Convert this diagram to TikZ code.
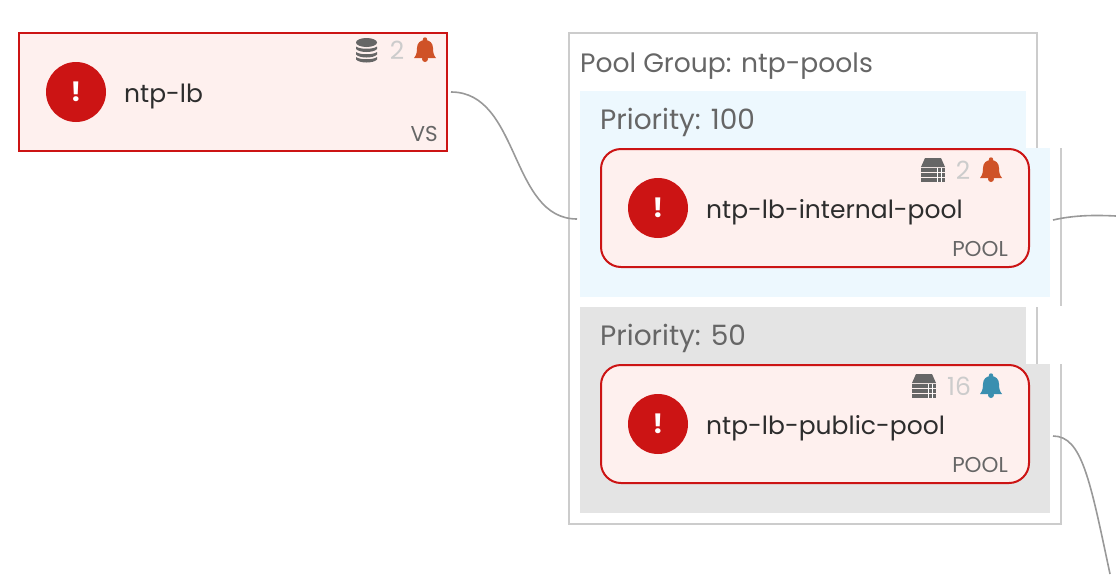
\documentclass[tikz,border=0pt]{standalone}
\usepackage{fontspec}
\setmainfont{Poppins}
\definecolor{alertred}{HTML}{CC1414}
\definecolor{alertfill}{HTML}{FEF0EE}
\definecolor{bluepane}{HTML}{EDF8FE}
\definecolor{graypane}{HTML}{E4E4E4}
\definecolor{groupline}{HTML}{CCCCCC}
\definecolor{textgray}{HTML}{666666}
\definecolor{namedark}{HTML}{2D2D2D}
\definecolor{bellred}{HTML}{CF5227}
\definecolor{bellblue}{HTML}{3A8FB0}
\tikzset{
  vsbox/.style={draw=alertred,line width=2pt,fill=alertfill,minimum width=428pt,minimum height=118pt,outer sep=4pt,inner sep=0pt},
  poolbox/.style={draw=alertred,line width=2pt,fill=alertfill,rounded corners=20pt,minimum width=428pt,minimum height=118pt,inner sep=0pt},
  pane/.style={minimum width=470pt,minimum height=149pt,inner sep=0pt,outer sep=3pt},
  panetop/.style={minimum width=446pt,minimum height=57pt,inner sep=0pt},
  alerticon/.style={circle,fill=alertred,minimum size=60pt,inner sep=0pt,text=white,font=\fontsize{27}{27}\selectfont\bfseries},
  nametext/.style={anchor=base west,text=namedark,inner sep=0pt,font=\fontsize{25}{30}\selectfont},
  headtext/.style={anchor=base west,text=textgray,inner sep=0pt,font=\fontsize{26.6}{30}\selectfont},
  prioritytext/.style={headtext,font=\fontsize{28}{30}\selectfont},
  kindtext/.style={anchor=base east,text=textgray,inner sep=0pt,font=\fontsize{21.5}{24}\selectfont},
  counttext/.style={text=groupline,inner sep=0pt,font=\fontsize{25}{28}\selectfont},
  groupedge/.style={draw=groupline,line width=2pt},
  link/.style={draw=black!40,line width=1.6pt},
  pics/bell/.style={code={
    \fill[#1] (-11,8) .. controls (-8.5,5) and (-8,2) .. (-8,-2) .. controls (-8,-7) and (-4.5,-10) .. (0,-10)
      .. controls (4.5,-10) and (8,-7) .. (8,-2) .. controls (8,2) and (8.5,5) .. (11,8) -- cycle;
    \fill[#1] (0,-10.5) circle (2.2);
    \fill[#1] (0,9) circle (3);
  }},
  pics/server/.style={code={
    \fill[textgray] (-8,-12) -- (8,-12) -- (12,-3) -- (-12,-3) -- cycle;
    \foreach \rowtop in {-2,3,8}
      \fill[textgray] (-12,\rowtop) rectangle (12,\rowtop+4);
    \draw[white,line width=.7pt] (4,-2) -- (4,12.2) (8,-2) -- (8,12.2);
  }},
  pics/dbstack/.style={code={
    \fill[textgray] (0,-7.5) ellipse[x radius=10.5,y radius=4.5];
    \foreach \bandtop in {-3.5,2,7}
      \fill[textgray] (-10.5,\bandtop) .. controls (-7,\bandtop+3) and (7,\bandtop+3) .. (10.5,\bandtop)
        -- (10.5,\bandtop+2.5) .. controls (7,\bandtop+6.5) and (-7,\bandtop+6.5) .. (-10.5,\bandtop+2.5) -- cycle;
  }},
}
\begin{document}
\begin{tikzpicture}[x=1pt,y=-1pt]
\useasboundingbox (0,0) rectangle (1116,574);
% group outline
\draw[groupedge] (1037,148) -- (1037,33) -- (569,33) -- (569,524) -- (1061,524) -- (1061,364);
\draw[groupedge] (1061,148) -- (1061,306);
\draw[groupedge] (1037,307) -- (1037,364);
% priority panes
\node[panetop,fill=bluepane] (bluetop) at (803,119.5) {};
\node[pane,fill=bluepane] (bluepanel) at (815,222.5) {};
\node[panetop,fill=graypane] (graytop) at (803,335.5) {};
\node[pane,fill=graypane] (graypanel) at (815,438.5) {};
\node[headtext] (grouptitle) at (580,72) {Pool Group: ntp-pools};
\node[prioritytext] (bluetitle) at (600,129) {Priority: 100};
\node[prioritytext] (graytitle) at (600,345) {Priority: 50};
% vs
\node[vsbox] (vsnode) at (233,92) {};
\node[alerticon] (vsalert) at (76,92) {!};
\node[nametext] (vsname) at (124,102) {ntp-lb};
\node[kindtext] (vskind) at (438,141) {VS};
\node[counttext] (vscount) at (397,50) {2};
\pic at (366.5,50) {dbstack};
\pic at (425,50) {bell=bellred};
% pools
\node[poolbox] (intpool) at (815,208) {};
\node[alerticon] (intalert) at (658,208) {!};
\node[nametext] (intname) at (706,218) {ntp-lb-internal-pool};
\node[kindtext] (intkind) at (1008,256) {POOL};
\node[counttext] (intcount) at (963,170) {2};
\pic at (933,170) {server};
\pic at (991,170) {bell=bellred};
\node[poolbox] (pubpool) at (815,424) {};
\node[alerticon] (pubalert) at (658,424) {!};
\node[nametext] (pubname) at (706,434) {ntp-lb-public-pool};
\node[kindtext] (pubkind) at (1008,472) {POOL};
\node[counttext] (pubcount) at (959,386) {16};
\pic at (924,386) {server};
\pic at (991,386) {bell=bellblue};
% links
\coordinate (intexit) at (1116,216);
\coordinate (pubexit) at (1110,574);
\draw[link] (vsnode.east) .. controls (520,92) and (510,219) .. ([yshift=3.5pt]bluepanel.west);
\draw[link] ([yshift=2.5pt]bluepanel.east) .. controls (1075,215) and (1095,215) .. (intexit);
\draw[link] ([yshift=2.5pt]graypanel.east) .. controls (1082,436) and (1090,480) .. (pubexit);
\end{tikzpicture}
\end{document}
